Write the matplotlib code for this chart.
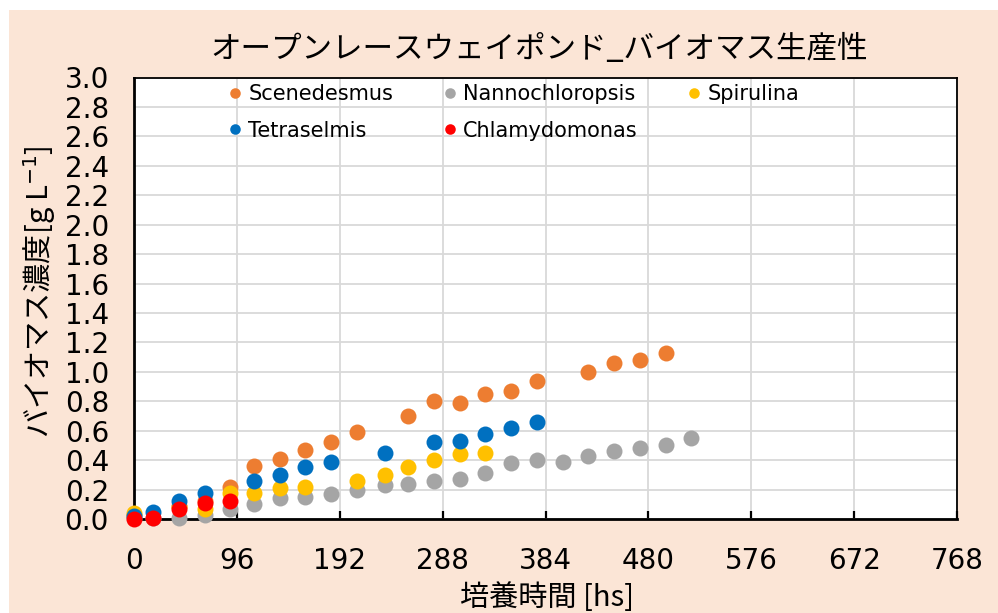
import matplotlib
matplotlib.use('Agg')
import matplotlib.pyplot as plt
import numpy as np
from matplotlib.patches import Rectangle

plt.rcParams['font.family'] = ['DejaVu Sans', 'Noto Sans CJK JP']
jp = ['Noto Sans CJK JP', 'DejaVu Sans']

# 培養時間 [h] とバイオマス濃度 [g/L]
t_sce = [0, 42, 66, 90, 112, 136, 160, 184, 208, 256, 280, 304, 328, 352, 376, 424, 448, 472, 496]
y_sce = [0.03, 0.09, 0.12, 0.22, 0.36, 0.41, 0.47, 0.52, 0.59, 0.70, 0.80, 0.79, 0.85, 0.87, 0.94, 1.00, 1.06, 1.08, 1.13]

t_nan = [0, 18, 42, 66, 90, 112, 136, 160, 184, 208, 234, 256, 280, 304, 328, 352, 376, 400, 424, 448, 472, 496, 520]
y_nan = [0.01, 0.01, 0.01, 0.03, 0.07, 0.10, 0.14, 0.15, 0.17, 0.20, 0.23, 0.24, 0.26, 0.27, 0.31, 0.38, 0.40, 0.39, 0.43, 0.46, 0.48, 0.50, 0.55]

t_spi = [0, 42, 66, 90, 112, 136, 160, 208, 234, 256, 280, 304, 328]
y_spi = [0.04, 0.08, 0.07, 0.18, 0.18, 0.21, 0.22, 0.26, 0.30, 0.35, 0.40, 0.44, 0.45]

t_tet = [0, 18, 42, 66, 112, 136, 160, 184, 234, 280, 304, 328, 352, 376]
y_tet = [0.02, 0.05, 0.12, 0.18, 0.26, 0.30, 0.35, 0.39, 0.45, 0.52, 0.53, 0.58, 0.62, 0.66]

t_chl = [0, 18, 42, 66, 90]
y_chl = [0.00, 0.01, 0.07, 0.11, 0.12]

series = [
    ('Scenedesmus', t_sce, y_sce, '#ED7D31'),
    ('Nannochloropsis', t_nan, y_nan, '#A5A5A5'),
    ('Spirulina', t_spi, y_spi, '#FFC000'),
    ('Tetraselmis', t_tet, y_tet, '#0070C0'),
    ('Chlamydomonas', t_chl, y_chl, '#FF0000'),
]

x_ticks = np.arange(0, 769, 96)
y_ticks = np.arange(0, 3.01, 0.2)

fig = plt.figure(figsize=(9.98, 6.13), dpi=100, facecolor='white')
# 背景（左と上に白い余白）
fig.patches.append(Rectangle((9/998, 0), 1, 1 - 10/613, transform=fig.transFigure,
                             facecolor='#FBE5D6', edgecolor='none', zorder=-10))

ax = fig.add_axes([134/998, 1 - 519/613, (957 - 134)/998, (519 - 77.5)/613])
ax.set_facecolor('white')

handles = {}
for name, t, y, c in series:
    handles[name], = ax.plot(t, y, linestyle='none', marker='o', ms=11.5, mew=0,
                             color=c, label=name, clip_on=False, zorder=3)

ax.set_xlim(0, 768)
ax.set_ylim(0, 3.0)
ax.set_xticks(x_ticks)
ax.set_yticks(y_ticks)
ax.set_yticklabels(['%.1f' % v for v in y_ticks])
ax.grid(True, color='#D9D9D9', lw=1.3, zorder=0)
ax.set_axisbelow(True)

ax.tick_params(axis='x', direction='in', length=6, width=1.6, labelsize=20, pad=20)
ax.tick_params(axis='y', length=0, labelsize=20, pad=18)
for s in ['left', 'bottom']:
    ax.spines[s].set_linewidth(2.0)
for s in ['top', 'right']:
    ax.spines[s].set_linewidth(1.3)

# 凡例は横方向に並べる（列優先なので順番を入れ替え）
order = ['Scenedesmus', 'Tetraselmis', 'Nannochloropsis', 'Chlamydomonas', 'Spirulina']
leg = ax.legend([handles[k] for k in order], order, ncol=3, loc='upper left',
                bbox_to_anchor=(0.110, 0.985), frameon=False, fontsize=15,
                borderpad=0, borderaxespad=0, handlelength=1.0, handletextpad=0.15,
                columnspacing=2.2, labelspacing=0.8, markerscale=0.66)

fig.text(539/998, 1 - 50/613, 'オープンレースウェイポンド_バイオマス生産性',
         family=jp, fontsize=22, ha='center', va='center')
fig.text(547/998, 1 - 598/613, '培養時間 [hs]', family=jp, fontsize=21,
         ha='center', va='center')
fig.text(40/998, 1 - 292/613, 'バイオマス濃度[g L$^{-1}$]', family=jp, fontsize=21,
         rotation=90, ha='center', va='center')

fig.savefig('out.png', dpi=100, facecolor=fig.get_facecolor())
